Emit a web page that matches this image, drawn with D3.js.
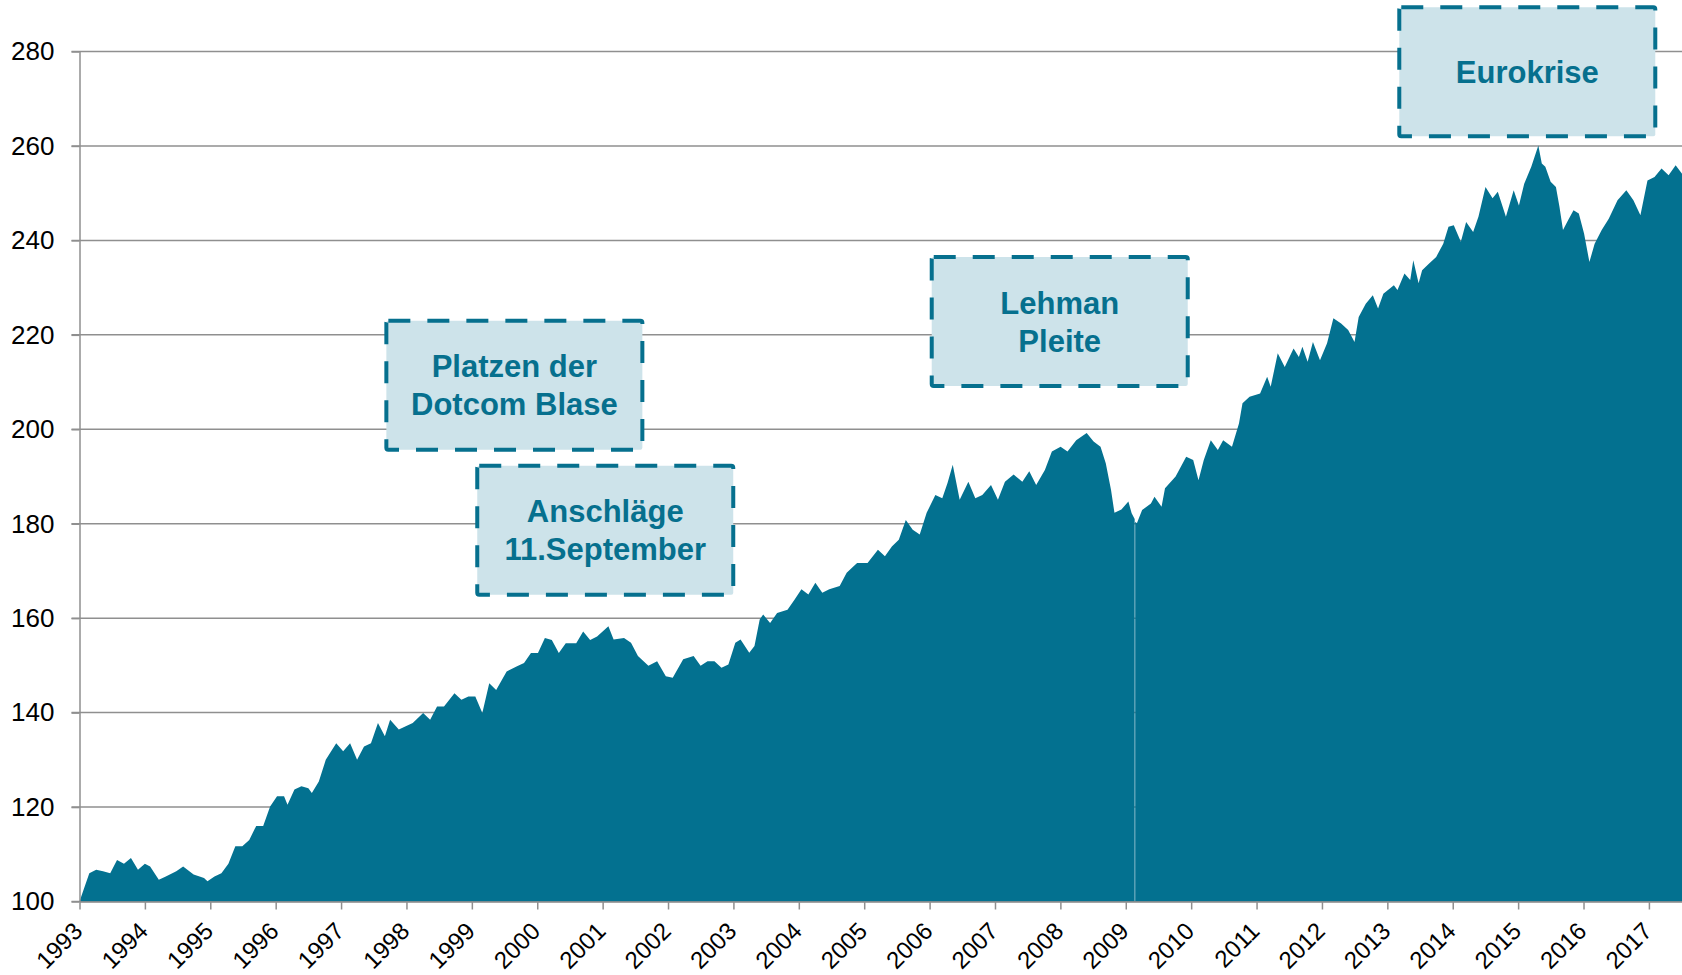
<!DOCTYPE html>
<html>
<head>
<meta charset="utf-8">
<script src="https://cdn.jsdelivr.net/npm/d3@7"></script>
<style>
  html, body { margin: 0; padding: 0; background: #fff; }
  svg { display: block; }
  text { font-family: "Liberation Sans", Arial, sans-serif; }
</style>
</head>
<body>
<svg id="chart" width="1682" height="975"></svg>
<script>
// ---- data (decimal year, index value) ----
const dates = [
  1993.00, 1993.15, 1993.255, 1993.36, 1993.47, 1993.574, 1993.68, 1993.787, 1993.894,
  1994.00, 1994.08, 1994.213, 1994.32, 1994.48, 1994.585, 1994.745, 1994.904, 1994.957,
  1995.064, 1995.17, 1995.277, 1995.383, 1995.49, 1995.596, 1995.702, 1995.809, 1995.915,
  1996.021, 1996.128, 1996.181, 1996.287, 1996.394, 1996.50, 1996.553, 1996.66, 1996.766, 1996.926,
  1997.032, 1997.138, 1997.245, 1997.351, 1997.457, 1997.564, 1997.67, 1997.75, 1997.883, 1997.989,
  1998.096, 1998.255, 1998.362, 1998.468, 1998.574, 1998.734, 1998.84, 1998.947,
  1999.053, 1999.16, 1999.266, 1999.372, 1999.532, 1999.691, 1999.798, 1999.904,
  2000.011, 2000.117, 2000.223, 2000.33, 2000.436, 2000.596, 2000.702, 2000.809, 2000.915,
  2001.088, 2001.168, 2001.327, 2001.434, 2001.54, 2001.70, 2001.833, 2001.966,
  2002.072, 2002.232, 2002.391, 2002.498, 2002.604, 2002.71, 2002.817, 2002.923,
  2003.029, 2003.109, 2003.242, 2003.322, 2003.402, 2003.455, 2003.561, 2003.668, 2003.827, 2003.934,
  2004.04, 2004.146, 2004.253, 2004.359, 2004.466, 2004.625, 2004.732, 2004.891,
  2005.051, 2005.21, 2005.317, 2005.423, 2005.529, 2005.636, 2005.742, 2005.849, 2005.955,
  2006.088, 2006.194, 2006.274, 2006.354, 2006.46, 2006.593, 2006.699, 2006.806, 2006.939,
  2007.045, 2007.152, 2007.285, 2007.418, 2007.524, 2007.63, 2007.763, 2007.87,
  2008.003, 2008.109, 2008.242, 2008.402, 2008.508, 2008.614, 2008.694, 2008.774, 2008.827, 2008.933,
  2009.04, 2009.09, 2009.136, 2009.14, 2009.144, 2009.17, 2009.25, 2009.385, 2009.439, 2009.547, 2009.60, 2009.762, 2009.924,
  2010.031, 2010.112, 2010.193, 2010.30, 2010.408, 2010.489, 2010.624, 2010.731, 2010.785, 2010.893,
  2011.054, 2011.162, 2011.216, 2011.324, 2011.431, 2011.566, 2011.647, 2011.701, 2011.781, 2011.862, 2011.97,
  2012.078, 2012.175, 2012.293, 2012.401, 2012.498, 2012.562, 2012.67, 2012.778, 2012.858, 2012.939,
  2013.10, 2013.155, 2013.262, 2013.35, 2013.397, 2013.478, 2013.532, 2013.639, 2013.747, 2013.855, 2013.935,
  2014.016, 2014.124, 2014.205, 2014.312, 2014.393, 2014.501, 2014.609, 2014.689, 2014.813, 2014.932,
  2015.012, 2015.093, 2015.201, 2015.309, 2015.362, 2015.416, 2015.497, 2015.578, 2015.632, 2015.686, 2015.766, 2015.847, 2015.928,
  2016.009, 2016.09, 2016.17, 2016.278, 2016.386, 2016.52, 2016.655, 2016.763, 2016.87, 2016.978,
  2017.086, 2017.193, 2017.301, 2017.409, 2017.506
];
const values = [
  100.0, 106.0, 106.7, 106.4, 106.0, 108.8, 108.0, 109.2, 106.7,
  108.0, 107.4, 104.6, 105.3, 106.4, 107.4, 105.7, 105.0, 104.3,
  105.3, 106.0, 108.0, 111.7, 111.7, 113.0, 116.0, 116.0, 120.1,
  122.3, 122.3, 120.5, 123.7, 124.4, 124.0, 123.0, 125.4, 130.0, 133.5,
  131.8, 133.5, 130.0, 132.8, 133.5, 137.8, 135.0, 138.5, 136.4, 137.1,
  137.8, 139.9, 138.5, 141.3, 141.3, 144.1, 142.7, 143.4,
  143.4, 139.9, 146.2, 144.8, 148.7, 149.8, 150.5, 152.6,
  152.6, 155.8, 155.4, 152.6, 154.7, 154.7, 157.2, 155.4, 156.1,
  158.3, 155.5, 155.8, 154.8, 152.0, 149.9, 150.9, 147.7,
  147.4, 151.3, 152.0, 149.9, 150.9, 150.9, 149.5, 150.2,
  154.8, 155.5, 152.7, 154.1, 159.7, 160.8, 159.0, 161.1, 161.8, 163.9,
  166.1, 165.0, 167.5, 165.4, 166.1, 166.8, 169.6, 171.7,
  171.7, 174.5, 173.1, 175.2, 176.6, 180.8, 178.7, 177.7, 182.3,
  186.1, 185.4, 188.6, 192.5, 185.1, 188.9, 185.4, 186.1, 188.2,
  185.1, 188.9, 190.4, 188.9, 191.1, 188.2, 191.4, 195.3,
  196.3, 195.3, 197.7, 199.2, 197.4, 196.3, 192.8, 187.2, 182.3, 183.0,
  184.7, 182.2, 181.0, null, 180.4, 180.1, 182.9, 184.3, 185.7, 183.6, 187.5, 190.0, 194.2,
  193.5, 189.2, 193.5, 197.7, 195.6, 197.7, 196.3, 201.2, 205.5, 206.9,
  207.6, 211.1, 209.0, 216.1, 213.2, 217.1, 215.3, 217.5, 214.3, 218.5, 214.6,
  218.2, 223.5, 222.4, 221.0, 218.5, 223.8, 226.6, 228.4, 225.6, 228.7,
  230.5, 229.5, 233.0, 231.6, 235.8, 230.9, 233.7, 235.1, 236.5, 239.3, 242.9,
  243.2, 239.7, 243.9, 241.8, 245.0, 251.3, 248.9, 250.3, 245.0, 250.6,
  247.4, 252.0, 255.6, 260.1, 256.3, 255.6, 252.4, 251.3, 247.1, 242.2, 244.3, 246.4, 245.7,
  241.4, 235.4, 239.3, 242.2, 244.6, 248.5, 250.6, 248.5, 245.3, 252.7,
  253.4, 255.2, 253.8, 255.9, 254.1
];

const xTickYears = [1993, 1994, 1995, 1996, 1997, 1998, 1999, 2000, 2001, 2002, 2003, 2004, 2005,
                    2006, 2007, 2008, 2009, 2010, 2011, 2012, 2013, 2014, 2015, 2016, 2017];
const yTickValues = [100, 120, 140, 160, 180, 200, 220, 240, 260, 280];

const annLabels = [["Platzen der", "Dotcom Blase"], ["Anschläge", "11.September"], ["Lehman", "Pleite"], ["Eurokrise"]];
const annYears  = [1999.65, 2001.04, 2007.99, 2015.14];
const annValues = [209.3, 178.6, 222.8, 275.7];

// ---- styles ----
const AREA = "#037190";
const GRID = "#8f8f8f";
const BOX_FILL = "#cde3ea";
const BOX_INK = "#06708e";

const svg = d3.select("#chart");
const W = 1682, H = 975;

const x = d3.scaleLinear().domain([1993, 2017.506]).range([79.5, W]);
const y = d3.scaleLinear().domain([100, 280]).range([901.5, 51.5]);

const series = dates.map((t, i) => ({ t, v: values[i] }));

// gridlines
svg.append("g").selectAll("line").data(yTickValues).join("line")
  .attr("x1", x(1993) - 8).attr("x2", W)
  .attr("y1", d => y(d)).attr("y2", d => y(d))
  .attr("stroke", GRID).attr("stroke-width", 1.5);

// area
const area = d3.area()
  .defined(d => d.v != null)
  .x(d => x(d.t))
  .y0(y(100))
  .y1(d => y(d.v));

svg.append("path").datum(series)
  .attr("d", area)
  .attr("fill", AREA);

// y axis
const yAxis = svg.append("g")
  .attr("transform", `translate(${x(1993)},0)`)
  .call(d3.axisLeft(y).tickValues(yTickValues).tickSize(8).tickSizeOuter(0).tickPadding(17).tickFormat(d3.format("d")));
yAxis.select(".domain").attr("stroke", GRID).attr("stroke-width", 1.5);
yAxis.selectAll(".tick line").attr("stroke", GRID).attr("stroke-width", 1.5);
yAxis.selectAll(".tick text").attr("fill", "#000").style("font-size", "26px");

// x axis
const xAxis = svg.append("g")
  .attr("transform", `translate(0,${y(100)})`)
  .call(d3.axisBottom(x).tickValues(xTickYears).tickSize(8).tickSizeOuter(0).tickFormat(d3.format("d")));
xAxis.select(".domain").attr("stroke", GRID).attr("stroke-width", 1.5);
xAxis.selectAll(".tick line").attr("stroke", GRID).attr("stroke-width", 1.5);
xAxis.selectAll(".tick text")
  .attr("x", 0).attr("y", 0).attr("dy", 0)
  .attr("transform", "translate(4,31) rotate(-45)")
  .style("text-anchor", "end")
  .attr("fill", "#000").style("font-size", "24px");

// annotations
const BW = 256, BH = 129, LH = 38;
const ann = svg.append("g").selectAll("g").data(annLabels.map((l, i) => ({ lines: l, t: annYears[i], v: annValues[i] })))
  .join("g")
  .attr("transform", d => `translate(${x(d.t)},${y(d.v)})`);

ann.append("rect")
  .attr("x", -BW / 2).attr("y", -BH / 2)
  .attr("width", BW).attr("height", BH)
  .attr("rx", 2)
  .attr("fill", BOX_FILL)
  .attr("stroke", BOX_INK).attr("stroke-width", 4)
  .attr("stroke-dasharray", "22,17");

ann.each(function (d) {
  const g = d3.select(this);
  const n = d.lines.length;
  d.lines.forEach((line, i) => {
    g.append("text")
      .attr("x", 0)
      .attr("y", 11 + (i - (n - 1) / 2) * LH)
      .attr("text-anchor", "middle")
      .attr("fill", BOX_INK)
      .style("font-size", "31px")
      .style("font-weight", "bold")
      .text(line);
  });
});
</script>
</body>
</html>
